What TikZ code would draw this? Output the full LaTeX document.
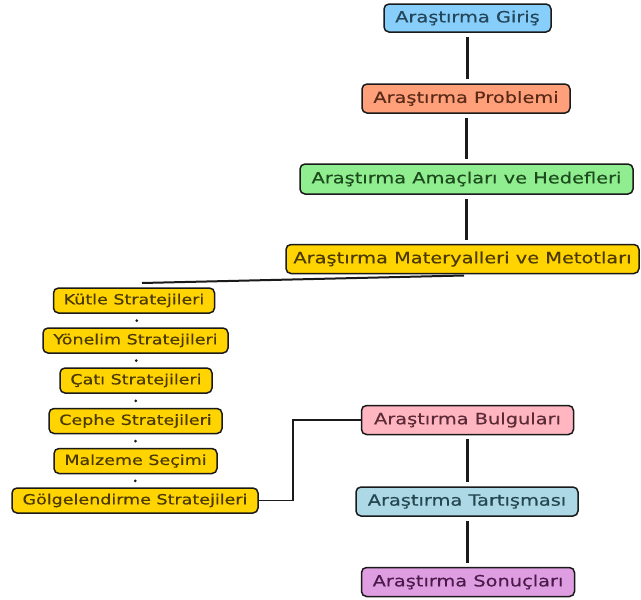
\documentclass[tikz,border=0pt]{standalone}
\usepackage{fontspec}
\setmainfont{DejaVu Sans}[FakeStretch=1.25, FakeBold=0.3]
\usetikzlibrary{calc}
\definecolor{cGiris}{HTML}{87CEFA}
\definecolor{tGiris}{HTML}{24465A}
\definecolor{cProb}{HTML}{FFA07A}
\definecolor{tProb}{HTML}{5A2A18}
\definecolor{cAmac}{HTML}{90EE90}
\definecolor{tAmac}{HTML}{1C4A1C}
\definecolor{cYel}{HTML}{FFD400}
\definecolor{tYel}{HTML}{4A3A00}
\definecolor{cBulg}{HTML}{FFB6C1}
\definecolor{tBulg}{HTML}{5A2A36}
\definecolor{cTart}{HTML}{ADD8E6}
\definecolor{tTart}{HTML}{24464F}
\definecolor{cSon}{HTML}{E09EE2}
\definecolor{tSon}{HTML}{4A1A4A}
\definecolor{cLine}{HTML}{1A1A1A}
\tikzset{
  mainbox/.style={draw=cLine, line width=1.5pt, rounded corners=5pt, inner sep=0pt,
    minimum height=29pt, font=\fontsize{15.5}{17}\selectfont},
  subbox/.style={draw=cLine, line width=1.5pt, rounded corners=5pt, inner sep=0pt,
    minimum height=25pt, fill=cYel, text=tYel, font=\fontsize{14}{16}\selectfont},
  vlink/.style={draw=cLine, line width=3pt, shorten >=4pt, shorten <=4pt},
  thinlink/.style={draw=cLine, line width=1.5pt},
  dotmark/.style={fill=cLine}
}
\begin{document}
\begin{tikzpicture}[x=1pt,y=-1pt]
\useasboundingbox (0,0) rectangle (641,600);
\fill[white] (0,0) rectangle (641,600);
% main chain
\node[mainbox, fill=cGiris, text=tGiris, minimum width=167pt, minimum height=28pt] (giris) at (467.5,18) {Araştırma Giriş};
\node[mainbox, fill=cProb, text=tProb, minimum width=208pt] (prob) at (466,98.5) {Araştırma Problemi};
\node[mainbox, fill=cAmac, text=tAmac, minimum width=333pt, minimum height=30pt] (amac) at (466.5,179) {Araştırma Amaçları ve Hedefleri};
\node[mainbox, fill=cYel, text=tYel, minimum width=353pt] (mat) at (462.5,259) {Araştırma Materyalleri ve Metotları};
\node[mainbox, fill=cBulg, text=tBulg, minimum width=212pt] (bulg) at (467.5,420) {Araştırma Bulguları};
\node[mainbox, fill=cTart, text=tTart, minimum width=222pt] (tart) at (467,501.5) {Araştırma Tartışması};
\node[mainbox, fill=cSon, text=tSon, minimum width=213pt] (son) at (468,582) {Araştırma Sonuçları};
% sub boxes
\node[subbox, minimum width=161pt] (kutle) at (134,300.5) {Kütle Stratejileri};
\node[subbox, minimum width=185pt] (yon) at (135.5,340.5) {Yönelim Stratejileri};
\node[subbox, minimum width=152pt] (cati) at (136,380.5) {Çatı Stratejileri};
\node[subbox, minimum width=173pt] (cephe) at (135.5,421) {Cephe Stratejileri};
\node[subbox, minimum width=163pt] (malz) at (135.5,461) {Malzeme Seçimi};
\node[subbox, minimum width=246pt] (golge) at (135,500.5) {Gölgelendirme Stratejileri};
% vertical links
\draw[vlink] (giris.south) -- (giris.south |- prob.north);
\draw[vlink] (prob.south) -- (prob.south |- amac.north);
\draw[vlink] (amac.south) -- (amac.south |- mat.north);
\draw[vlink] (bulg.south) -- (bulg.south |- tart.north);
\draw[vlink] (tart.south) -- (tart.south |- son.north);
% link from materials to sub list
\coordinate (m1) at (464,275.5);
\coordinate (k1) at (142,283);
\draw[thinlink, line width=2pt] (m1) -- (k1);
% dots between sub boxes
\fill[dotmark] ($(kutle.south)!0.5!(yon.north)+(2,0)$) circle (1.5pt);
\fill[dotmark] ($(yon.south)!0.5!(cati.north)+(0.5,0)$) circle (1.5pt);
\fill[dotmark] ($(cati.south)!0.5!(cephe.north)$) circle (1.5pt);
\fill[dotmark] ($(cephe.south)!0.5!(malz.north)$) circle (1.5pt);
\fill[dotmark] ($(malz.south)!0.5!(golge.north)$) circle (1.5pt);
% link from shading to findings
\draw[thinlink] (golge.east) -- ++(34,0) |- (bulg.west);
\end{tikzpicture}
\end{document}
